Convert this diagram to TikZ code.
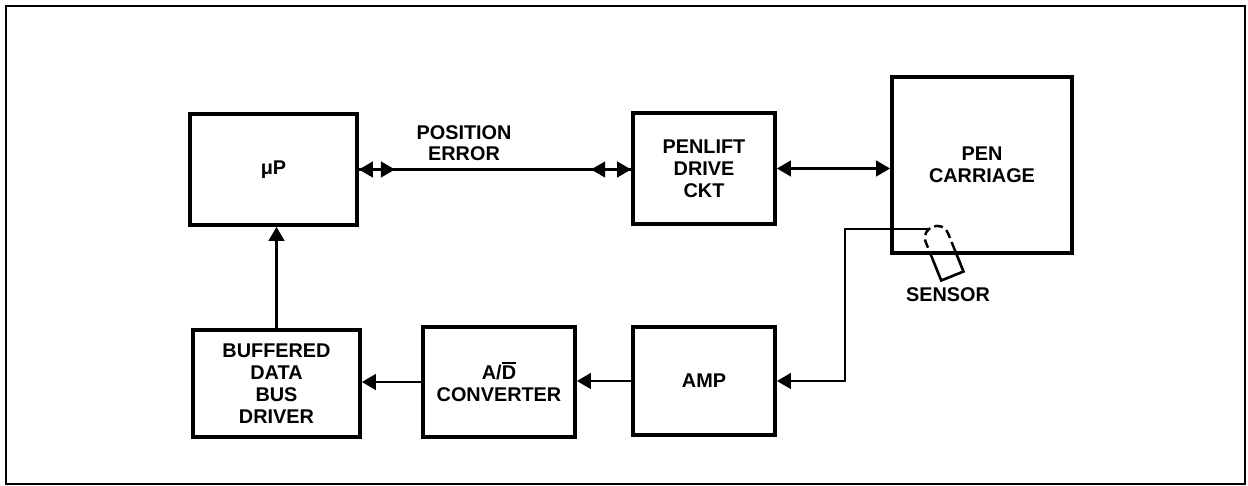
\documentclass[tikz,border=0pt]{standalone}
\usepackage{fontspec}
\setmainfont{Liberation Sans}
\usetikzlibrary{arrows.meta}
\newcommand\barred[1]{\sbox0{#1}\rlap{\rule[\dimexpr\ht0+1.3pt\relax]{\wd0}{0.9pt}}#1}
\tikzset{
  blk/.style={draw, line width=2.2pt, inner sep=0pt, align=center,
    font=\fontsize{11.3}{12.6}\selectfont\bfseries},
  lbl/.style={inner sep=0pt, align=center, font=\fontsize{11.3}{12.2}\selectfont\bfseries},
  wire/.style={line width=1.2pt},
  tip/.style={-{Triangle[length=8pt,width=9pt]}},
  tips/.style={{Triangle[length=8pt,width=9pt]}-{Triangle[length=8pt,width=9pt]}},
}
\begin{document}
\begin{tikzpicture}[x=0.02cm,y=-0.02cm]
\useasboundingbox (0,0) rectangle (1248,486);
\draw[line width=1.4pt] (6,6) rectangle (1245,484);

% blocks
\node[blk, minimum width=3.34cm, minimum height=2.22cm] (mu) at (273.5,169.5) {μP};
\node[blk, minimum width=2.84cm, minimum height=2.22cm] (pl) at (704,168.5) {PENLIFT\\DRIVE\\CKT};
\node[blk, minimum width=3.6cm, minimum height=3.52cm] (pc) at (982,165) {PEN\\CARRIAGE};
\node[blk, minimum width=3.34cm, minimum height=2.14cm] (bd) at (276.5,383.5) {BUFFERED\\DATA\\BUS\\DRIVER};
\node[blk, minimum width=3.04cm, minimum height=2.2cm] (ad) at (499,382) {A/\barred{D}\\CONVERTER};
\node[blk, minimum width=2.84cm, minimum height=2.16cm] (amp) at (704,381) {AMP};

% labels
\node[lbl] (pe) at (464,143) {POSITION\\ERROR};
\node[lbl] (sn) at (948,295) {SENSOR};

% sensor (pen tip)
\begin{scope}[shift={(937,238)}, rotate=22]
  \draw[line width=1.4pt, dash pattern=on 5pt off 2.5pt] (12,18) -- (12,0)
     .. controls (12,-16) and (-12,-16) .. (-12,0) -- (-12,18);
  \draw[line width=1.5pt] (12,18) -- (12,41) -- (-12,41) -- (-12,18);
  \coordinate (pentop) at (-4,-11);
\end{scope}
\coordinate (wx) at (845,0);

% connectors
\draw[wire, tips] (mu.east) -- (mu.east -| pl.west);
\draw[wire, tip] (mu.east) -- ++(36,0);
\draw[wire, tip] (mu.east -| pl.west) -- ++(-40,0);
\draw[wire, tips] (pl.east) -- (pl.east -| pc.west);
\draw[wire, tip] (bd.north) -- (bd.north |- mu.south);
\draw[wire, tip] (amp.west) -- (amp.west -| ad.east);
\draw[wire, tip] (ad.west) -- (ad.west -| bd.east);
\draw[wire, tip] (pentop) -- (pentop -| wx) -- (wx |- amp.east) -- (amp.east);
\end{tikzpicture}
\end{document}
